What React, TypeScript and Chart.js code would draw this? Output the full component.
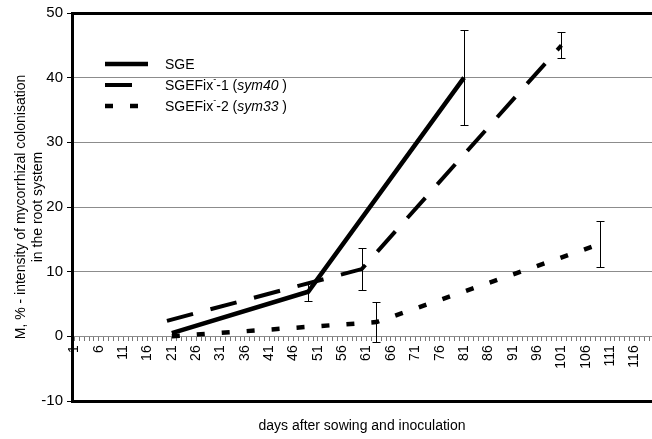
import React, { useEffect, useRef } from 'react';
import { Chart, registerables } from 'chart.js';

Chart.register(...registerables);

const FONT = '"Liberation Sans", Arial, Helvetica, sans-serif';

// ---- data ----
const sgeDays = [21, 49, 81];
const sgeValues = [0.5, 6.9, 40];
const sgeErrors = [0, 1.4, 7.3];

const fix1Days = [20, 60, 101];
const fix1Values = [2.4, 10.4, 45];
const fix1Errors = [0, 3.25, 2];

const fix2Days = [21, 63, 109];
const fix2Values = [0, 2.2, 14.3];
const fix2Errors = [0, 3.15, 3.55];

const seriesNames = ['SGE', 'SGEFix-1 (sym40)', 'SGEFix-2 (sym33)'];
const xLabelDays = [1, 6, 11, 16, 21, 26, 31, 36, 41, 46, 51, 56, 61, 66, 71, 76, 81, 86, 91, 96, 101, 106, 111, 116];
const yTickValues = [-10, 0, 10, 20, 30, 40, 50];
const yTitleLines = ['M, % - intensity of mycorrhizal colonisation', 'in the root system'];
const xTitle = 'days after sowing and inoculation';

const legendParts = [
  [{ text: 'SGE' }],
  [{ text: 'SGEFix' }, { text: '-', sup: true }, { text: '-1 (' }, { text: 'sym40', italic: true }, { text: ' )' }],
  [{ text: 'SGEFix' }, { text: '-', sup: true }, { text: '-2 (' }, { text: 'sym33', italic: true }, { text: ' )' }],
];

const pts = (days: number[], vals: number[]) => days.map((d, i) => ({ x: d, y: vals[i] }));

const errorBarPlugin = {
  id: 'errorBars',
  afterDatasetsDraw(chart: any) {
    const { ctx } = chart;
    const x = chart.scales.x;
    const y = chart.scales.y;
    ctx.save();
    ctx.strokeStyle = '#000';
    ctx.lineWidth = 1;
    ctx.setLineDash([]);
    chart.data.datasets.forEach((ds: any) => {
      ds.data.forEach((p: any, i: number) => {
        const e = ds.errors[i];
        if (!e) return;
        const px = Math.round(x.getPixelForValue(p.x)) + 0.5;
        const top = Math.round(y.getPixelForValue(p.y + e)) + 0.5;
        const bot = Math.round(y.getPixelForValue(p.y - e)) + 0.5;
        ctx.beginPath();
        ctx.moveTo(px, top);
        ctx.lineTo(px, bot);
        ctx.moveTo(px - 4, top);
        ctx.lineTo(px + 4, top);
        ctx.moveTo(px - 4, bot);
        ctx.lineTo(px + 4, bot);
        ctx.stroke();
      });
    });
    ctx.restore();
  },
};

const legendPlugin = {
  id: 'customLegend',
  afterDraw(chart: any) {
    const ctx = chart.ctx;
    const rows = [64, 85, 106];
    ctx.save();
    chart.data.datasets.forEach((ds: any, i: number) => {
      const yy = rows[i];
      ctx.strokeStyle = '#000';
      ctx.lineWidth = ds.borderWidth;
      ctx.lineCap = 'butt';
      ctx.setLineDash(ds.borderDash || []);
      ctx.beginPath();
      ctx.moveTo(105, yy);
      ctx.lineTo(148, yy);
      ctx.stroke();
      ctx.setLineDash([]);
      let tx = 165;
      ctx.fillStyle = '#000';
      ctx.textBaseline = 'middle';
      ctx.textAlign = 'left';
      legendParts[i].forEach((part: any) => {
        const size = part.sup ? 9 : 14;
        ctx.font = `${part.italic ? 'italic ' : ''}${size}px ${FONT}`;
        ctx.fillText(part.text, tx, part.sup ? yy - 5 : yy + 1);
        tx += ctx.measureText(part.text).width;
      });
    });
    ctx.restore();
  },
};

export default function App() {
  const canvasRef = useRef<HTMLCanvasElement | null>(null);

  useEffect(() => {
    document.body.style.margin = '0';
    const canvas = canvasRef.current;
    if (!canvas) return;
    const chart = new Chart(canvas, {
      type: 'line',
      data: {
        datasets: [
          {
            label: seriesNames[0],
            data: pts(sgeDays, sgeValues),
            errors: sgeErrors,
            borderColor: '#000',
            borderWidth: 4.5,
            borderDash: [],
            pointRadius: 0,
            tension: 0,
            fill: false,
          } as any,
          {
            label: seriesNames[1],
            data: pts(fix1Days, fix1Values),
            errors: fix1Errors,
            borderColor: '#000',
            borderWidth: 4,
            borderDash: [27, 18],
            borderCapStyle: 'butt',
            pointRadius: 0,
            tension: 0,
            fill: false,
          } as any,
          {
            label: seriesNames[2],
            data: pts(fix2Days, fix2Values),
            errors: fix2Errors,
            borderColor: '#000',
            borderWidth: 4.5,
            borderDash: [8, 17],
            borderCapStyle: 'butt',
            pointRadius: 0,
            tension: 0,
            fill: false,
          } as any,
        ],
      },
      options: {
        responsive: false,
        animation: false,
        devicePixelRatio: 1,
        layout: { padding: { top: 13, left: 0, right: 0, bottom: 0 } },
        scales: {
          x: {
            type: 'linear',
            min: 0.5,
            max: 119.6,
            position: { y: 0 } as any,
            afterBuildTicks: (s: any) => {
              const t: any[] = [];
              for (let d = 1; d <= 119; d++) t.push({ value: d });
              s.ticks = t;
            },
            afterFit: (s: any) => {
              s.height = 0;
              s.paddingLeft = 0;
              s.paddingRight = 0;
            },
            ticks: {
              autoSkip: false,
              minRotation: 90,
              maxRotation: 90,
              padding: 5,
              color: '#000',
              font: { family: FONT, size: 14 },
              callback: (v: any) => (xLabelDays.includes(Number(v)) ? String(v) : ''),
            },
            grid: {
              drawOnChartArea: false,
              drawTicks: true,
              tickLength: 4,
              tickColor: '#777',
              tickWidth: 1,
            },
            border: { display: true, color: '#8c8c8c', width: 1 },
          },
          y: {
            type: 'linear',
            min: -10,
            max: 50,
            afterBuildTicks: (s: any) => {
              s.ticks = yTickValues.map((v) => ({ value: v }));
            },
            afterFit: (s: any) => {
              s.width = 72;
            },
            ticks: {
              padding: 4,
              color: '#000',
              font: { family: FONT, size: 15 },
              callback: (v: any) => String(v),
            },
            grid: {
              color: (c: any) => {
                const v = c.tick ? c.tick.value : null;
                if (v === 50 || v === -10) return '#000';
                if (v === 0) return 'rgba(0,0,0,0)';
                return '#8c8c8c';
              },
              lineWidth: (c: any) => {
                const v = c.tick ? c.tick.value : null;
                return v === 50 || v === -10 ? 3 : 1;
              },
              tickColor: '#000',
              tickWidth: 1,
              tickLength: 5,
              drawTicks: true,
            },
            border: { display: true, color: '#000', width: 3 },
            title: {
              display: true,
              text: yTitleLines,
              color: '#000',
              font: { family: FONT, size: 14, lineHeight: 1.2 },
              padding: { top: 13, bottom: 0 },
            },
          },
        },
        plugins: {
          legend: { display: false },
          tooltip: { enabled: false },
          title: {
            display: true,
            text: xTitle,
            position: 'bottom',
            fullSize: false,
            color: '#000',
            font: { family: FONT, size: 14, weight: 'normal', lineHeight: 1.2 },
            padding: { top: 16.6, bottom: 4.6 },
          },
        },
      } as any,
      plugins: [errorBarPlugin, legendPlugin],
    });
    return () => chart.destroy();
  }, []);

  return (
    <div style={{ width: 652, height: 439 }}>
      <canvas ref={canvasRef} width={652} height={439} style={{ display: 'block' }} />
    </div>
  );
}
